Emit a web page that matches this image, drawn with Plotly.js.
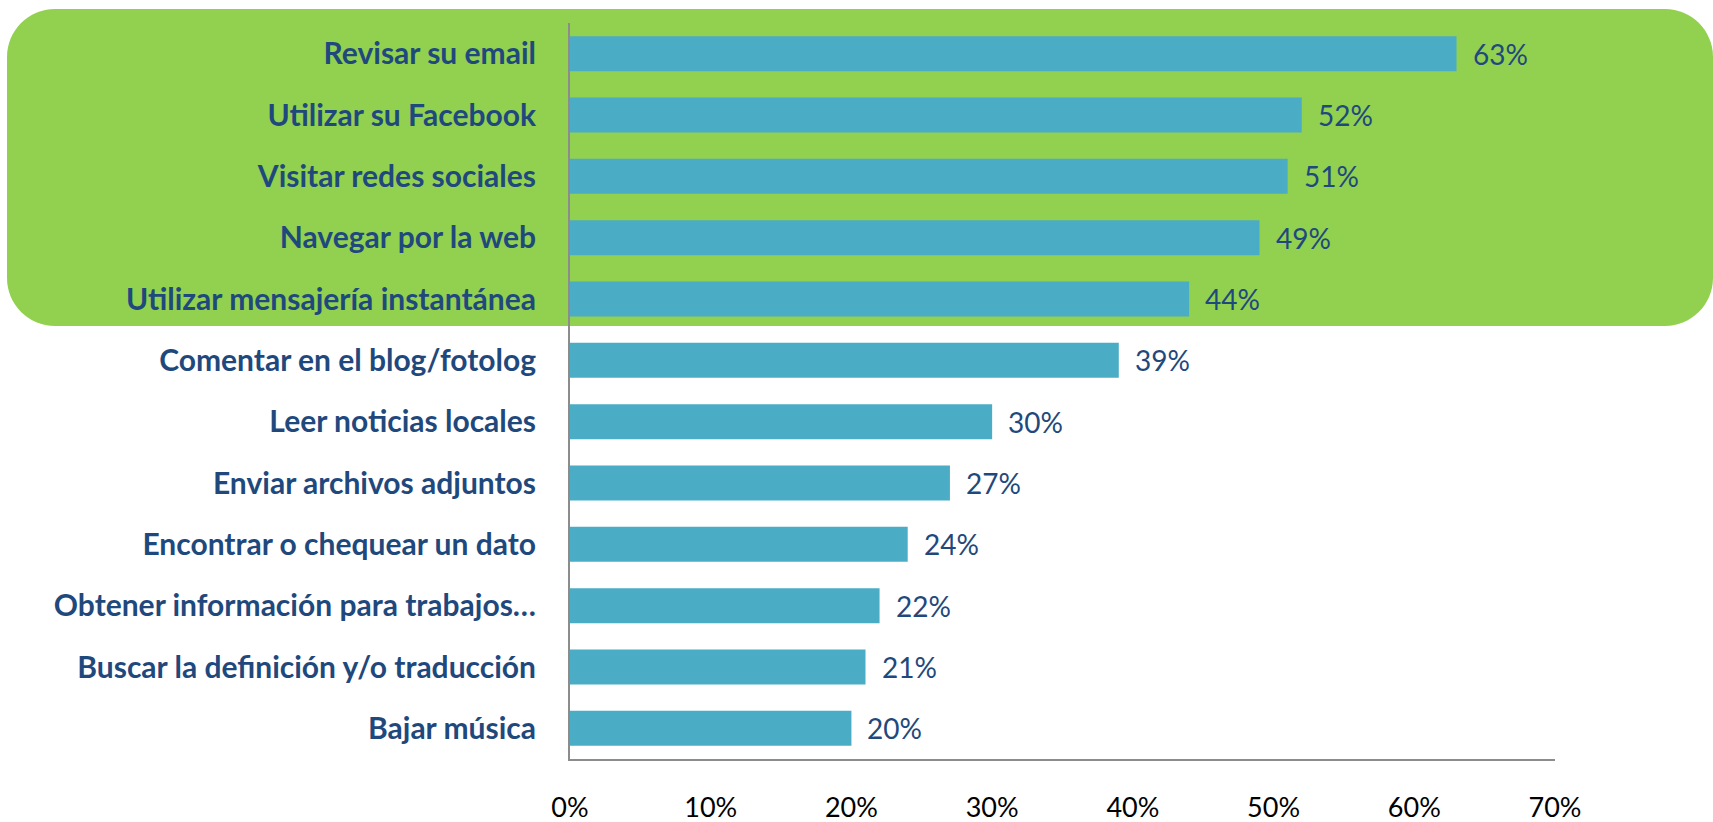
<!DOCTYPE html>
<html>
<head>
<meta charset="utf-8">
<script src="https://cdn.plot.ly/plotly-3.0.1.min.js"></script>
<style>html,body{margin:0;padding:0;background:#fff}#chart{width:1713px;height:822px}</style>
</head>
<body>
<div id="chart"></div>
<script>
const categories = [
  "Revisar su email",
  "Utilizar su Facebook",
  "Visitar redes sociales",
  "Navegar por la web",
  "Utilizar mensajería instantánea",
  "Comentar en el blog/fotolog",
  "Leer noticias locales",
  "Enviar archivos adjuntos",
  "Encontrar o chequear un dato",
  "Obtener información para trabajos…",
  "Buscar la definición y/o traducción",
  "Bajar música"
];
const values = [63, 52, 51, 49, 44, 39, 30, 27, 24, 22, 21, 20];
const xTickVals = [0, 10, 20, 30, 40, 50, 60, 70];
const xTickText = ["0%", "10%", "20%", "30%", "40%", "50%", "60%", "70%"];

const W = 1713, Hh = 822;
const M = {l: 570, r: 158, t: 23, b: 63};
const pw = W - M.l - M.r, ph = Hh - M.t - M.b;
function px(x){ return ((x - M.l) / pw).toFixed(5); }
function py(y){ return ((Hh - M.b - y) / ph).toFixed(5); }
function roundRect(x0, y0, x1, y1, r){
  const k = 0.5523 * r;
  return `M ${px(x0+r)},${py(y0)} L ${px(x1-r)},${py(y0)} ` +
    `C ${px(x1-r+k)},${py(y0)} ${px(x1)},${py(y0+r-k)} ${px(x1)},${py(y0+r)} ` +
    `L ${px(x1)},${py(y1-r)} ` +
    `C ${px(x1)},${py(y1-r+k)} ${px(x1-r+k)},${py(y1)} ${px(x1-r)},${py(y1)} ` +
    `L ${px(x0+r)},${py(y1)} ` +
    `C ${px(x0+r-k)},${py(y1)} ${px(x0)},${py(y1-r+k)} ${px(x0)},${py(y1-r)} ` +
    `L ${px(x0)},${py(y0+r)} ` +
    `C ${px(x0)},${py(y0+r-k)} ${px(x0+r-k)},${py(y0)} ${px(x0+r)},${py(y0)} Z`;
}

const trace = {
  type: 'bar',
  orientation: 'h',
  x: values,
  y: categories,
  marker: {color: '#4BACC6'},
  hoverinfo: 'none'
};

const annotations = values.map((v, i) => ({
  x: v, y: categories[i], xref: 'x', yref: 'y',
  text: v + '%', showarrow: false, xanchor: 'left', xshift: 14,
  font: {family: 'Lato, "Open Sans", sans-serif', size: 28, color: '#1F497D'}
}));

const layout = {
  width: W, height: Hh,
  margin: M,
  paper_bgcolor: '#ffffff',
  plot_bgcolor: 'rgba(0,0,0,0)',
  showlegend: false,
  bargap: 0.43,
  xaxis: {
    range: [0, 70],
    tickvals: xTickVals,
    ticktext: xTickText,
    showgrid: false,
    zeroline: false,
    showline: true,
    linecolor: '#8C8C8C',
    linewidth: 2,
    ticks: '',
    ticklabelstandoff: 24,
    tickfont: {family: 'Lato, "Open Sans", sans-serif', size: 27, color: '#000000'},
    fixedrange: true
  },
  yaxis: {
    type: 'category',
    autorange: 'reversed',
    showgrid: false,
    zeroline: false,
    showline: true,
    linecolor: '#8C8C8C',
    linewidth: 2,
    ticks: '',
    ticklabelstandoff: 26,
    tickfont: {family: 'Lato, "Open Sans", sans-serif', size: 30, color: '#1F497D', weight: 'bold'},
    fixedrange: true
  },
  shapes: [{
    type: 'path', xref: 'paper', yref: 'paper', layer: 'below',
    path: roundRect(7, 9, 1713, 326, 48),
    fillcolor: '#92D050', line: {width: 0}
  }],
  annotations: annotations
};

Plotly.newPlot('chart', [trace], layout, {displayModeBar: false, staticPlot: true});
</script>
</body>
</html>
